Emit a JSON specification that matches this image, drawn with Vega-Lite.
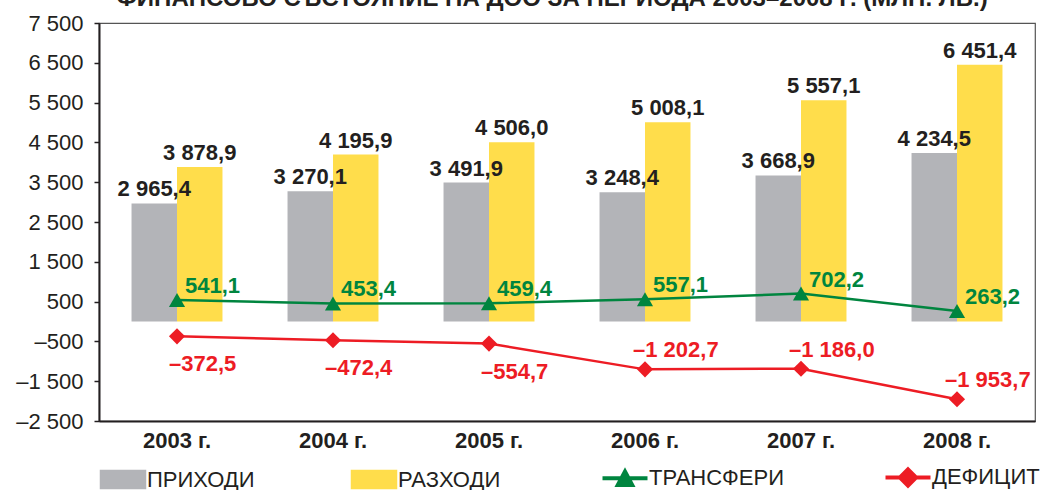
{
  "$schema": "https://vega.github.io/schema/vega-lite/v6.json",
  "autosize": {"type": "none"},
  "width": 936,
  "height": 398,
  "padding": {"left": 99, "top": 23, "right": 9, "bottom": 69},
  "background": "white",
  "title": {
    "text": "ФИНАНСОВО СЪСТОЯНИЕ НА ДОО ЗА ПЕРИОДА 2003–2008 Г. (МЛН. ЛВ.)",
    "font": "Liberation Sans",
    "fontSize": 24,
    "fontWeight": "bold",
    "color": "#231f20",
    "baseline": "alphabetic",
    "offset": 3,
    "dy": 21,
    "dx": -15,
    "anchor": "middle"
  },
  "config": {
    "view": {"stroke": "#555555", "strokeWidth": 1.2},
    "font": "Liberation Sans",
    "legend": {"padding": 0}
  },
  "data": {
    "values": [
      {"year": "2003 г.", "series": "ПРИХОДИ", "value": 2965.4},
      {"year": "2003 г.", "series": "РАЗХОДИ", "value": 3878.9},
      {"year": "2003 г.", "series": "ТРАНСФЕРИ", "value": 541.1},
      {"year": "2003 г.", "series": "ДЕФИЦИТ", "value": -372.5},
      {"year": "2004 г.", "series": "ПРИХОДИ", "value": 3270.1},
      {"year": "2004 г.", "series": "РАЗХОДИ", "value": 4195.9},
      {"year": "2004 г.", "series": "ТРАНСФЕРИ", "value": 453.4},
      {"year": "2004 г.", "series": "ДЕФИЦИТ", "value": -472.4},
      {"year": "2005 г.", "series": "ПРИХОДИ", "value": 3491.9},
      {"year": "2005 г.", "series": "РАЗХОДИ", "value": 4506.0},
      {"year": "2005 г.", "series": "ТРАНСФЕРИ", "value": 459.4},
      {"year": "2005 г.", "series": "ДЕФИЦИТ", "value": -554.7},
      {"year": "2006 г.", "series": "ПРИХОДИ", "value": 3248.4},
      {"year": "2006 г.", "series": "РАЗХОДИ", "value": 5008.1},
      {"year": "2006 г.", "series": "ТРАНСФЕРИ", "value": 557.1},
      {"year": "2006 г.", "series": "ДЕФИЦИТ", "value": -1202.7},
      {"year": "2007 г.", "series": "ПРИХОДИ", "value": 3668.9},
      {"year": "2007 г.", "series": "РАЗХОДИ", "value": 5557.1},
      {"year": "2007 г.", "series": "ТРАНСФЕРИ", "value": 702.2},
      {"year": "2007 г.", "series": "ДЕФИЦИТ", "value": -1186.0},
      {"year": "2008 г.", "series": "ПРИХОДИ", "value": 4234.5},
      {"year": "2008 г.", "series": "РАЗХОДИ", "value": 6451.4},
      {"year": "2008 г.", "series": "ТРАНСФЕРИ", "value": 263.2},
      {"year": "2008 г.", "series": "ДЕФИЦИТ", "value": -1953.7}
    ]
  },
  "transform": [
    {"calculate": "(datum.value < 0 ? '–' : '') + replace(replace(format(abs(datum.value), ',.1f'), ',', ' '), '.', ',')", "as": "label"}
  ],
  "encoding": {
    "x": {
      "field": "year",
      "type": "nominal",
      "sort": null,
      "scale": {"paddingInner": 0.417, "paddingOuter": 0.2085},
      "axis": {
        "title": null,
        "labelAngle": 0,
        "labelFont": "Liberation Sans",
        "labelFontSize": 22,
        "labelFontWeight": "bold",
        "labelColor": "#231f20",
        "labelPadding": 9,
        "ticks": false,
        "domainColor": "#231f20",
        "domainWidth": 2
      }
    },
    "y": {
      "field": "value",
      "type": "quantitative",
      "scale": {"domain": [-2500, 7500], "nice": false, "zero": false},
      "axis": {
        "title": null,
        "grid": false,
        "values": [-2500, -1500, -500, 500, 1500, 2500, 3500, 4500, 5500, 6500, 7500],
        "labelExpr": "(datum.value < 0 ? '–' : '') + replace(format(abs(datum.value), ','), ',', ' ')",
        "labelFont": "Liberation Sans",
        "labelFontSize": 22,
        "labelColor": "#231f20",
        "labelPadding": 11,
        "tickSize": 5,
        "tickColor": "#231f20",
        "tickWidth": 1.5,
        "domainColor": "#231f20",
        "domainWidth": 2
      }
    }
  },
  "layer": [
    {
      "transform": [{"filter": "datum.series === 'ПРИХОДИ' || datum.series === 'РАЗХОДИ'"}],
      "mark": {"type": "bar"},
      "encoding": {
        "xOffset": {"field": "series", "type": "nominal", "sort": ["ПРИХОДИ", "РАЗХОДИ"], "scale": {"paddingInner": 0, "paddingOuter": 0}},
        "y2": {"datum": 0},
        "color": {
          "field": "series",
          "type": "nominal",
          "scale": {
            "domain": ["ПРИХОДИ", "РАЗХОДИ", "ТРАНСФЕРИ", "ДЕФИЦИТ"],
            "range": ["#b3b4b8", "#ffdd4b", "#00853f", "#ed1c24"]
          },
          "legend": {
            "title": null,
            "orient": "none",
            "direction": "horizontal",
            "legendX": 13,
            "legendY": 443,
            "symbolSize": 2025,
            "columnPadding": 93,
            "labelFont": "Liberation Sans",
            "labelFontSize": 22,
            "labelColor": "#231f20",
            "labelOffset": 13,
            "labelLimit": 300,
            "encode": {
              "symbols": {
                "update": {
                  "shape": {"signal": "(datum.value === 'ПРИХОДИ' || datum.value === 'РАЗХОДИ') ? 'M-1,-0.4H1V0.4H-1Z' : (datum.value === 'ТРАНСФЕРИ' ? 'M-1,0H1M-0.32,0.3L0,-0.3L0.32,0.3Z' : 'M-1,0H1M0,-0.36L0.36,0L0,0.36L-0.36,0Z')"},
                  "fill": {"signal": "scale('color', datum.value)"},
                  "stroke": {"signal": "(datum.value === 'ПРИХОДИ' || datum.value === 'РАЗХОДИ') ? '#4d4d4f' : scale('color', datum.value)"},
                  "strokeWidth": {"signal": "(datum.value === 'ПРИХОДИ' || datum.value === 'РАЗХОДИ') ? 1.5 : 4"},
                  "opacity": {"value": 1},
                  "fillOpacity": {"value": 1},
                  "strokeOpacity": {"value": 1}
                }
              }
            }
          }
        }
      }
    },
    {
      "transform": [{"filter": "datum.series === 'ПРИХОДИ' || datum.series === 'РАЗХОДИ'"}],
      "mark": {"type": "text", "font": "Liberation Sans", "fontSize": 22, "fontWeight": "bold", "color": "#231f20", "baseline": "alphabetic", "dy": -7},
      "encoding": {
        "xOffset": {"field": "series", "type": "nominal", "sort": ["ПРИХОДИ", "РАЗХОДИ"]},
        "text": {"field": "label"}
      }
    },
    {
      "transform": [{"filter": "datum.series === 'ТРАНСФЕРИ' || datum.series === 'ДЕФИЦИТ'"}],
      "mark": {"type": "line", "strokeWidth": 2.5},
      "encoding": {
        "color": {"field": "series", "type": "nominal"},
        "detail": {"field": "series"}
      }
    },
    {
      "transform": [{"filter": "datum.series === 'ТРАНСФЕРИ' || datum.series === 'ДЕФИЦИТ'"}],
      "mark": {"type": "point", "filled": true, "opacity": 1, "size": 260},
      "encoding": {
        "color": {"field": "series", "type": "nominal"},
        "shape": {"field": "series", "type": "nominal", "scale": {"domain": ["ТРАНСФЕРИ", "ДЕФИЦИТ"], "range": ["triangle-up", "diamond"]}, "legend": null}
      }
    },
    {
      "transform": [{"filter": "datum.series === 'ТРАНСФЕРИ'"}],
      "mark": {"type": "text", "font": "Liberation Sans", "fontSize": 22, "fontWeight": "bold", "color": "#00853f", "align": "left", "baseline": "alphabetic", "dx": 8, "dy": -7},
      "encoding": {"text": {"field": "label"}}
    },
    {
      "transform": [{"filter": "datum.series === 'ДЕФИЦИТ' && datum.value > -1000"}],
      "mark": {"type": "text", "font": "Liberation Sans", "fontSize": 22, "fontWeight": "bold", "color": "#ed1c24", "align": "left", "baseline": "alphabetic", "dx": -8, "dy": 35},
      "encoding": {"text": {"field": "label"}}
    },
    {
      "transform": [{"filter": "datum.series === 'ДЕФИЦИТ' && datum.value < -1000"}],
      "mark": {"type": "text", "font": "Liberation Sans", "fontSize": 22, "fontWeight": "bold", "color": "#ed1c24", "align": "left", "baseline": "alphabetic", "dx": -12, "dy": -12},
      "encoding": {"text": {"field": "label"}}
    }
  ]
}
